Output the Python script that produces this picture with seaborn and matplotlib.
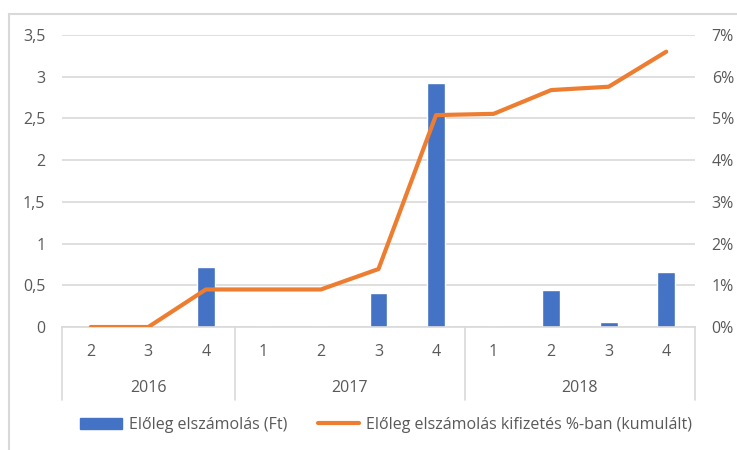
import numpy as np
import pandas as pd
import matplotlib
matplotlib.use("Agg")
import matplotlib.pyplot as plt
from matplotlib.patches import Rectangle, Patch
from matplotlib.lines import Line2D
from matplotlib.ticker import FuncFormatter, MultipleLocator
import seaborn as sns

# data
years = ["2016", "2017", "2018"]
quarters = ["2", "3", "4", "1", "2", "3", "4", "1", "2", "3", "4"]
year_of = ["2016"] * 3 + ["2017"] * 4 + ["2018"] * 4
advance = [0, 0, 0.72, 0, 0, 0.41, 2.92, 0, 0.44, 0.065, 0.66]
cum_pct = [0, 0, 0.90, 0.90, 0.90, 1.39, 5.08, 5.11, 5.68, 5.76, 6.60]

BAR = "#4472C4"
LINE = "#ED7D31"
GRID = "#D9D9D9"
TXT = "#595959"
FS = 11.5

sns.set_style("white")
plt.rcParams["font.family"] = ["Open Sans", "DejaVu Sans"]

df = pd.DataFrame({"cat": [f"{y}-{q}" for y, q in zip(year_of, quarters)],
                   "adv": advance, "pct": cum_pct})
df["pos"] = np.arange(len(df))

fig = plt.figure(figsize=(7.37, 4.5), dpi=100)
ax = fig.add_axes([0.0841, 0.2733, 0.8589, 0.6489])

sns.barplot(data=df, x="cat", y="adv", color=BAR, width=0.31, saturation=1, ax=ax, zorder=2)
ax.set_xlim(-0.5, len(df) - 0.5)
ax.set_ylim(0, 3.5)
ax.yaxis.set_major_locator(MultipleLocator(0.5))
ax.yaxis.set_major_formatter(FuncFormatter(lambda v, p: f"{v:g}".replace(".", ",")))
ax.grid(axis="y", color=GRID, linewidth=1.2, zorder=0)
ax.set_axisbelow(True)
for s in ax.spines.values():
    s.set_visible(False)
ax.spines["bottom"].set_visible(True)
ax.spines["bottom"].set_color(GRID)
ax.spines["bottom"].set_linewidth(1.2)
ax.set_xticks(df["pos"])
ax.set_xticklabels(quarters)
ax.tick_params(axis="x", length=0, pad=12, labelsize=FS, labelcolor=TXT)
ax.tick_params(axis="y", length=0, pad=12, labelsize=FS, labelcolor=TXT)
ax.set_xlabel("")
ax.set_ylabel("")

ax2 = ax.twinx()
sns.lineplot(data=df, x="pos", y="pct", color=LINE, linewidth=3.0, ax=ax2, zorder=3)
ax2.set_ylim(0, 7)
ax2.yaxis.set_major_locator(MultipleLocator(1))
ax2.yaxis.set_major_formatter(FuncFormatter(lambda v, p: f"{v:.0f}%"))
ax2.tick_params(axis="y", length=0, pad=12, labelsize=FS, labelcolor=TXT)
ax2.set_ylabel("")
ax2.set_xlabel("")
for s in ax2.spines.values():
    s.set_visible(False)
ax2.set_xlim(-0.5, len(df) - 0.5)

# year group labels and separators
starts = [year_of.index(y) for y in years]
ends = [len(year_of) - 1 - year_of[::-1].index(y) for y in years]
trans = ax.get_xaxis_transform()
for y, a, b in zip(years, starts, ends):
    ax.text((a + b) / 2, -0.21, y, transform=trans, ha="center", va="center",
            fontsize=FS, color=TXT)
for xb in [starts[0] - 0.5] + [e + 0.5 for e in ends]:
    ax.plot([xb, xb], [0, -0.25], transform=trans, color=GRID, linewidth=1.2,
            clip_on=False)

# legend
handles = [Patch(facecolor=BAR, edgecolor=BAR),
           Line2D([0], [0], color=LINE, linewidth=3.0)]
labels = ["Előleg elszámolás (Ft)", "Előleg elszámolás kifizetés %-ban (kumulált)"]
leg = fig.legend(handles, labels, loc="center", bbox_to_anchor=(0.524, 0.056), ncol=2,
                 frameon=False, fontsize=FS, handlelength=2.6, handleheight=0.65,
                 columnspacing=1.9, handletextpad=0.45)
for t in leg.get_texts():
    t.set_color(TXT)

# outer chart border
fig.patches.append(Rectangle((0.012, -0.01), 0.99, 0.98, transform=fig.transFigure,
                             fill=False, edgecolor=GRID, linewidth=1.5))

fig.savefig("out.png", dpi=100)
